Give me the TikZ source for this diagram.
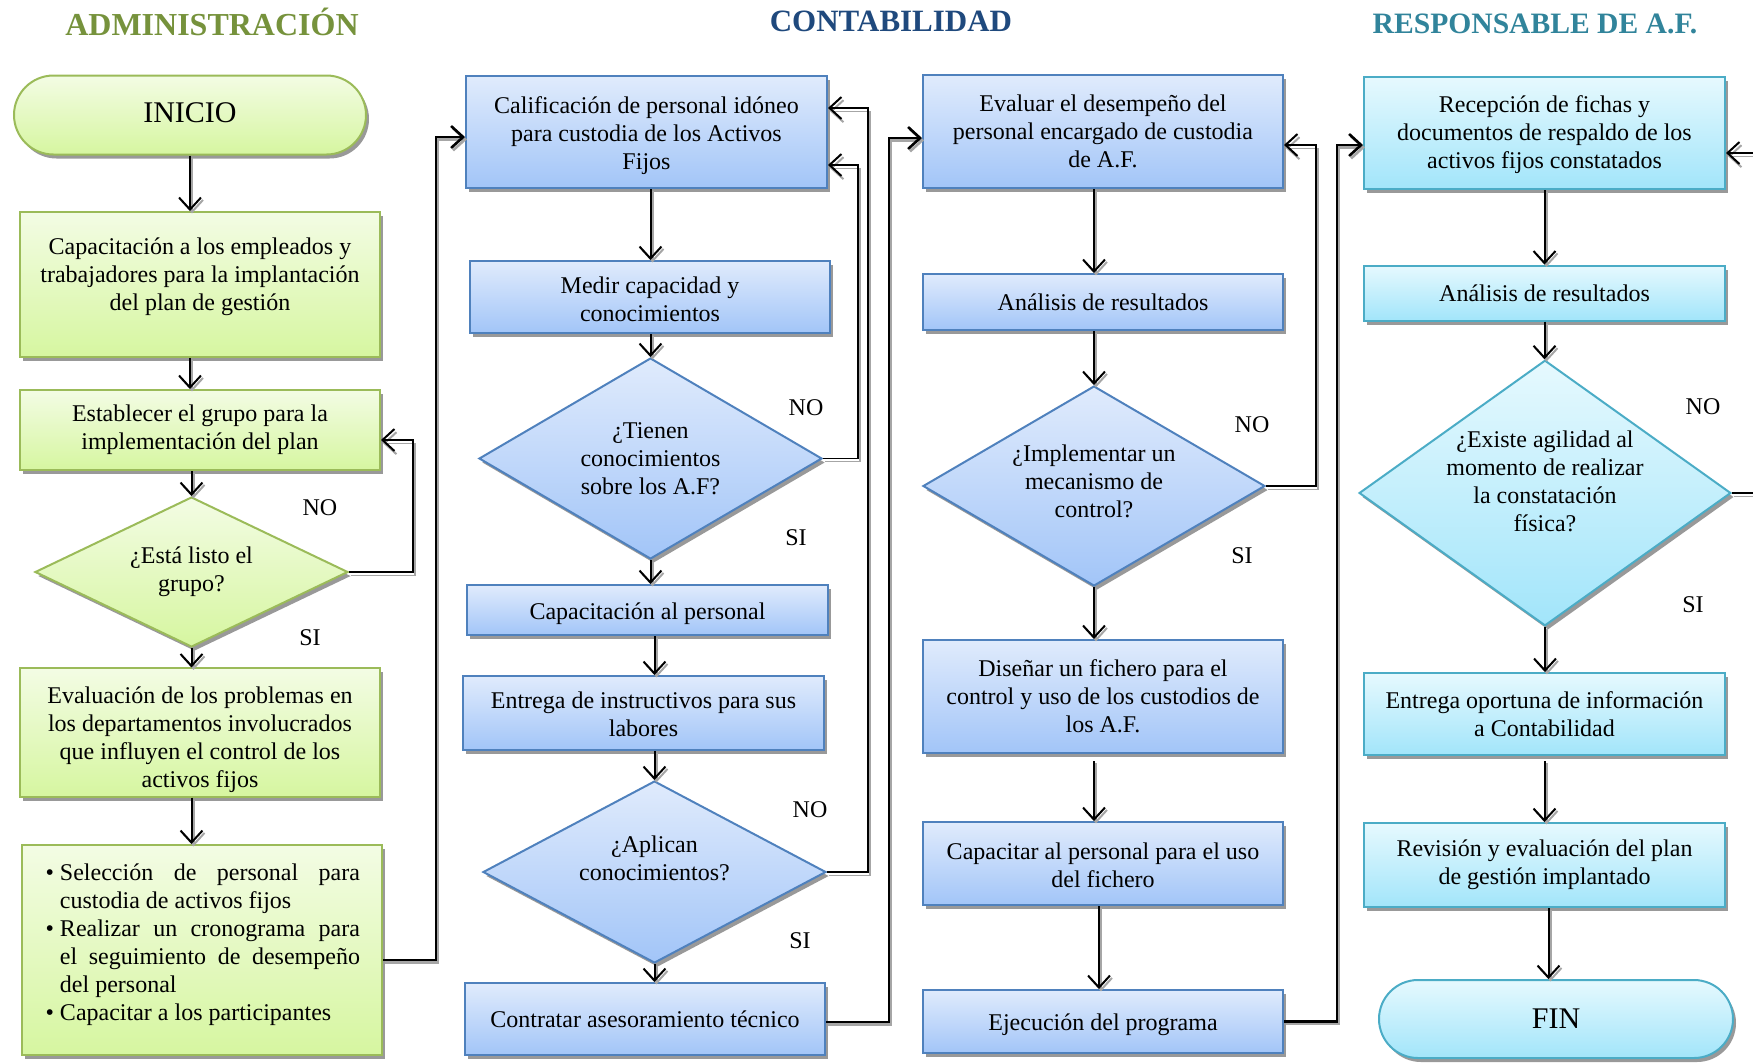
\documentclass[tikz,border=0pt]{standalone}
\usepackage{fontspec}
\setmainfont{Liberation Serif}
\usepackage{enumitem}
\usetikzlibrary{shapes.geometric,shapes.misc,shadows,arrows.meta,calc}

% palette
\definecolor{grnT}{RGB}{243,252,228}
\definecolor{grnD}{RGB}{214,246,160}
\definecolor{grnB}{RGB}{155,187,89}
\definecolor{grnH}{RGB}{118,146,60}
\definecolor{bluT}{RGB}{224,235,252}
\definecolor{bluD}{RGB}{162,197,248}
\definecolor{bluB}{RGB}{79,129,189}
\definecolor{bluH}{RGB}{31,73,125}
\definecolor{tealT}{RGB}{230,249,254}
\definecolor{tealD}{RGB}{162,229,250}
\definecolor{tealB}{RGB}{75,172,198}
\definecolor{tealH}{RGB}{49,132,155}

\tikzset{
  fbase/.style={line width=1pt, font=\fontsize{12}{14}\selectfont, align=center,
    inner sep=2pt,
    drop shadow={shadow xshift=1.5pt, shadow yshift=-2pt, fill=black!40, opacity=1}},
  gbox/.style={fbase, rectangle, draw=grnB, top color=grnT, bottom color=grnD},
  bbox/.style={fbase, rectangle, draw=bluB, top color=bluT, bottom color=bluD},
  tbox/.style={fbase, rectangle, draw=tealB, top color=tealT, bottom color=tealD},
  gdec/.style={fbase, diamond, aspect=1.8, inner sep=0pt, draw=grnB, top color=grnT, bottom color=grnD},
  bdec/.style={fbase, diamond, aspect=1.8, inner sep=0pt, draw=bluB, top color=bluT, bottom color=bluD},
  tdec/.style={fbase, diamond, aspect=1.4, inner sep=0pt, draw=tealB, top color=tealT, bottom color=tealD},
  term/.style={fbase, rounded rectangle, font=\fontsize{15}{17}\selectfont},
  head/.style={font=\fontsize{16}{18}\selectfont\bfseries},
  lbl/.style={font=\fontsize{12}{14}\selectfont},
  flow/.style={line width=1pt, -{Straight Barb[length=6pt,width=11pt]},
    preaction={draw=black!35, line width=1pt, -{Straight Barb[length=6pt,width=11pt]},
      transform canvas={xshift=1pt,yshift=-1.2pt}}},
  jump/.style={line width=1.3pt, -{Straight Barb[length=6pt,width=11pt]},
    preaction={draw=black!35, line width=1.3pt, -{Straight Barb[length=6pt,width=11pt]},
      transform canvas={xshift=1pt,yshift=-1.2pt}}},
  backflow/.style={line width=0.6pt, -{Straight Barb[length=6pt,width=11pt,line width=1pt]},
    preaction={draw=black!35, line width=0.6pt, -{Straight Barb[length=6pt,width=11pt,line width=1pt]},
      transform canvas={xshift=1pt,yshift=-1.6pt}}},
}

\begin{document}
\begin{tikzpicture}[x=0.5pt, y=-0.5pt]
\useasboundingbox (0,0) rectangle (1753,1062);
\clip (0,0) rectangle (1753,1062);

% column headings
\node[head, text=grnH] (h1) at (212,22) {ADMINISTRACIÓN};
\node[head, text=bluH, font=\fontsize{15.5}{18}\selectfont\bfseries] (h2) at (891,21) {CONTABILIDAD};
\node[head, text=tealH, font=\fontsize{14.8}{18}\selectfont\bfseries] (h3) at (1535,24) {RESPONSABLE DE A.F.};

% --- Administración
\node[term, draw=grnB, top color=grnT, bottom color=grnD, minimum width=180pt, minimum height=39.5pt, text depth=2.2pt] (ini) at (190,115) {INICIO};
\node[gbox, minimum width=180pt, minimum height=72.5pt, text depth=10.6pt] (b1) at (200,284.5)
  {Capacitación a los empleados y\\trabajadores para la implantación\\del plan de gestión};
\node[gbox, minimum width=180pt, minimum height=40pt] (b2) at (200,430)
  {Establecer el grupo para la\\implementación del plan};
\node[gdec, minimum width=156.5pt, minimum height=75pt] (d1) at (191.5,572)
  {¿Está listo el\\grupo?};
\node[gbox, minimum width=180pt, minimum height=62.5pt, text height=57.5pt] (b3) at (200,732.5)
  {Evaluación de los problemas en\\los departamentos involucrados\\que influyen el control de los\\activos fijos};
\node[gbox, minimum width=180pt, minimum height=105pt, align=left] (b4) at (202,950)
  {\begin{minipage}{158pt}
   \begin{itemize}[leftmargin=8pt, labelsep=3pt, itemsep=0pt, topsep=0pt, parsep=0pt, partopsep=0pt]
   \item Selección de personal para\linebreak custodia de activos fijos
   \item Realizar un cronograma para\linebreak el seguimiento de desempeño\linebreak del personal
   \item Capacitar a los participantes
   \end{itemize}
   \vspace{5pt}
   \end{minipage}};

% --- Contabilidad, first column
\node[bbox, minimum width=180.5pt, minimum height=56pt, text height=39.6pt] (cal) at (646.5,132)
  {Calificación de personal idóneo\\para custodia de los Activos\\Fijos};
\node[bbox, minimum width=180pt, minimum height=36pt, text height=24.4pt] (med) at (650,297)
  {Medir capacidad y\\conocimientos};
\node[bdec, minimum width=171.5pt, minimum height=100.5pt] (d2) at (650.5,458.5)
  {¿Tienen\\conocimientos\\sobre los A.F?};
\node[bbox, minimum width=180.5pt, minimum height=25pt, text height=11.7pt] (cap) at (647.5,610)
  {Capacitación al personal};
\node[bbox, minimum width=180.5pt, minimum height=37pt, text height=24pt] (ent) at (643.5,713)
  {Entrega de instructivos para sus\\labores};
\node[bdec, minimum width=171.5pt, minimum height=91pt, text depth=14pt] (d3) at (654.5,872)
  {¿Aplican\\conocimientos?};
\node[bbox, minimum width=180pt, minimum height=36pt] (con) at (645,1019)
  {Contratar asesoramiento técnico};

% --- Contabilidad, second column
\node[bbox, minimum width=180pt, minimum height=56.5pt] (ev) at (1103,131.5)
  {Evaluar el desempeño del\\personal encargado de custodia\\de A.F.};
\node[bbox, minimum width=180pt, minimum height=28pt] (an1) at (1103,302)
  {Análisis de resultados};
\node[bdec, minimum width=171pt, minimum height=100pt, text depth=4.4pt] (d4) at (1094,486)
  {¿Implementar un\\mecanismo de\\control?};
\node[bbox, minimum width=180pt, minimum height=56.5pt] (dis) at (1103,696.5)
  {Diseñar un fichero para el\\control y uso de los custodios de\\los A.F.};
\node[bbox, minimum width=180pt, minimum height=41.5pt, text height=24.4pt] (capu) at (1103,863.5)
  {Capacitar al personal para el uso\\del fichero};
\node[bbox, minimum width=180pt, minimum height=31.5pt, text height=11.7pt] (eje) at (1103,1021.5)
  {Ejecución del programa};

% --- Responsable de A.F.
\node[tbox, minimum width=180.5pt, minimum height=56pt, text height=38.5pt] (rec) at (1544.5,133)
  {Recepción de fichas y\\documentos de respaldo de los\\activos fijos constatados};
\node[tbox, minimum width=180.5pt, minimum height=27.5pt] (an2) at (1544.5,293)
  {Análisis de resultados};
\node[tdec, minimum width=180pt, minimum height=131.5pt, text depth=12pt] (d5) at (1545,493)
  {¿Existe agilidad al\\momento de realizar\\la constatación\\física?};
\node[tbox, minimum width=180.5pt, minimum height=41pt] (ento) at (1544.5,714)
  {Entrega oportuna de información\\a Contabilidad};
\node[tbox, minimum width=180.5pt, minimum height=42pt] (rev) at (1544.5,865)
  {Revisión y evaluación del plan\\de gestión implantado};
\node[term, draw=tealB, top color=tealT, bottom color=tealD, minimum width=181pt, minimum height=39pt] (fin) at (1556,1019) {FIN};

% decision labels
\node[lbl] (no1) at (320,508) {NO};
\node[lbl] (si1) at (310,638) {SI};
\node[lbl] (no2) at (806,408) {NO};
\node[lbl] (si2) at (796,538) {SI};
\node[lbl] (no3) at (810,810) {NO};
\node[lbl] (si3) at (800,941) {SI};
\node[lbl] (no4) at (1252,425) {NO};
\node[lbl] (si4) at (1242,556) {SI};
\node[lbl] (no5) at (1703,407) {NO};
\node[lbl] (si5) at (1693,605) {SI};

% main flow, column 1
\draw[flow] (ini.south) -- (ini.south |- b1.north);
\draw[flow] (b1.south -| ini.south) -- (b2.north -| ini.south);
\draw[flow] (b2.south -| d1.north) -- (d1.north);
\draw[flow] (d1.south) -- (d1.south |- b3.north);
\draw[flow] (b3.south -| d1.south) -- (b4.north -| d1.south);

% main flow, column 2
\draw[flow] (cal.south -| d2.north) -- (med.north -| d2.north);
\draw[flow] (med.south -| d2.north) -- (d2.north);
\draw[flow] (d2.south) -- (d2.south |- cap.north);
\draw[flow] (cap.south -| d3.north) -- (ent.north -| d3.north);
\draw[flow] (ent.south -| d3.north) -- (d3.north);
\draw[flow] (d3.south) -- (d3.south |- con.north);

% main flow, column 3
\draw[flow] (ev.south -| d4.north) -- (an1.north -| d4.north);
\draw[flow] (an1.south -| d4.north) -- (d4.north);
\draw[flow] (d4.south) -- (d4.south |- dis.north);
\draw[flow] ($(dis.south -| d4.south)+(0,7)$) -- (capu.north -| d4.south);
\draw[flow] ($(capu.south)+(-4,0)$) -- ($(eje.north)+(-4,0)$);

% main flow, column 4
\draw[flow] (rec.south) -- (an2.north);
\draw[flow] (an2.south) -- (an2.south |- d5.north);
\draw[flow] (d5.south) -- (d5.south |- ento.north);
\draw[flow] ($(ento.south)+(0,5)$) -- (ento.south |- rev.north);
\draw[flow] ($(rev.south)+(4,0)$) -- ($(rev.south |- fin.north)+(4,0)$);

% hand-over between columns
\draw[jump] ($(b4.east)+(0,10)$) -- ++(53,0) |- ($(cal.west)+(0,5)$);
\draw[jump] ($(con.east)+(0,3)$) -- ++(63,0) |- ($(ev.west)+(0,6.5)$);
\draw[jump] (eje.east) -- ++(53,0) |- ($(rec.west)+(0,12)$);

% NO branches
\draw[backflow] (d1.east) -- ++(64,0) |- ($(b2.east)+(0,10)$);
\draw[backflow] (d2.east) -- ++(35,0) |- ($(cal.east)+(0,33)$);
\draw[backflow] (d3.east) -- ++(41,0) |- ($(cal.east)+(0,-24)$);
\draw[backflow] (d4.east) -- ++(50,0) |- ($(ev.east)+(0,13.5)$);
\draw[backflow] (d5.east) -- ++(50,0) |- ($(rec.east)+(0,20)$);
\end{tikzpicture}
\end{document}
